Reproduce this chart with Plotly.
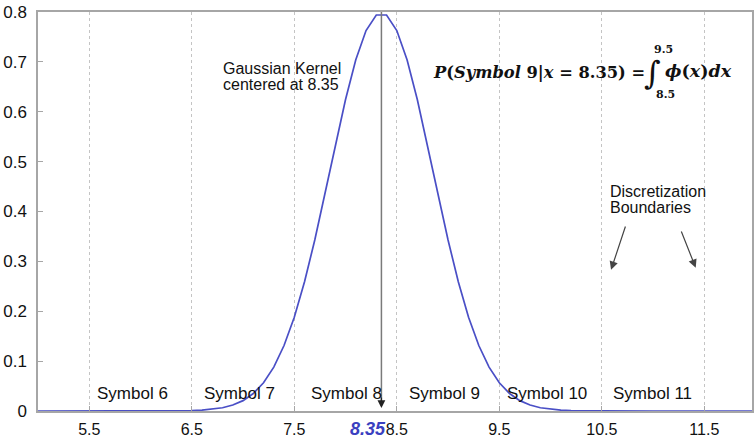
import plotly.graph_objects as go

# ---- data ----
x_vals = [5.0, 6.0, 6.2, 6.3, 6.4, 6.5, 6.6, 6.7, 6.8, 6.9, 7.0, 7.1, 7.2, 7.3, 7.4,
          7.5, 7.6, 7.7, 7.8, 7.9, 8.0, 8.1, 8.2, 8.3, 8.4, 8.5, 8.6, 8.7, 8.8, 8.9,
          9.0, 9.1, 9.2, 9.3, 9.4, 9.5, 9.6, 9.7, 9.8, 9.9, 10.0, 10.1, 10.2, 10.3,
          10.4, 10.5, 11.0, 12.0]
y_vals = [0.0, 0.0, 0.0001, 0.0002, 0.0004, 0.0008, 0.0017, 0.0034, 0.0065, 0.0119,
          0.0208, 0.0351, 0.0567, 0.0880, 0.1313, 0.1881, 0.2591, 0.3428, 0.4357,
          0.5322, 0.6245, 0.7041, 0.7628, 0.7940, 0.7940, 0.7628, 0.7041, 0.6245,
          0.5322, 0.4357, 0.3428, 0.2591, 0.1881, 0.1313, 0.0880, 0.0567, 0.0351,
          0.0208, 0.0119, 0.0065, 0.0034, 0.0017, 0.0008, 0.0004, 0.0002, 0.0001,
          0.0, 0.0]

x_ticks = [5.5, 6.5, 7.5, 8.5, 9.5, 10.5, 11.5]
x_tick_labels = ["5.5", "6.5", "7.5", "8.5", "9.5", "10.5", "11.5"]
y_ticks = [0, 0.1, 0.2, 0.3, 0.4, 0.5, 0.6, 0.7, 0.8]
y_tick_labels = ["0", "0.1", "0.2", "0.3", "0.4", "0.5", "0.6", "0.7", "0.8"]

symbol_names = ["Symbol 6", "Symbol 7", "Symbol 8", "Symbol 9", "Symbol 10", "Symbol 11"]
symbol_x = [5.92, 6.97, 8.01, 8.97, 9.97, 10.99]
kernel_center = 8.35

SANS = "Liberation Sans, Arial, sans-serif"
SERIF = "DejaVu Serif, serif"
AX = "#a6a6a6"
TXT = "#111"

fig = go.Figure()
fig.add_trace(go.Scatter(x=x_vals, y=y_vals, mode="lines",
                         line=dict(color="#4a4fc6", width=1.7), showlegend=False,
                         hoverinfo="skip"))

# vertical marker line at kernel centre
fig.add_shape(type="line", x0=kernel_center, x1=kernel_center, y0=0.8, y1=0.02,
              xref="x", yref="y", line=dict(color="#7a7a7a", width=1.5))

ann = []
ann.append(dict(x=kernel_center, y=0.006, ax=kernel_center, ay=0.03, xref="x", yref="y",
                axref="x", ayref="y", showarrow=True, arrowhead=2, arrowsize=1.2,
                arrowwidth=1.3, arrowcolor="#222", text=""))

for name, sx in zip(symbol_names, symbol_x):
    ann.append(dict(x=sx, y=0.036, xref="x", yref="y", text=name, showarrow=False,
                    font=dict(family=SANS, size=17, color=TXT), xanchor="center",
                    yanchor="middle"))

ann.append(dict(x=6.789, y=0.686, xref="x", yref="y", text="Gaussian Kernel",
                showarrow=False, xanchor="left", yanchor="middle",
                font=dict(family=SANS, size=16, color=TXT)))
ann.append(dict(x=6.789, y=0.655, xref="x", yref="y", text="centered at 8.35",
                showarrow=False, xanchor="left", yanchor="middle",
                font=dict(family=SANS, size=16, color=TXT)))

ann.append(dict(x=10.56, y=0.441, xref="x", yref="y", text="Discretization",
                showarrow=False, xanchor="left", yanchor="middle",
                font=dict(family=SANS, size=16, color=TXT)))
ann.append(dict(x=10.56, y=0.408, xref="x", yref="y", text="Boundaries",
                showarrow=False, xanchor="left", yanchor="middle",
                font=dict(family=SANS, size=16, color=TXT)))

ann.append(dict(x=10.59, y=0.283, ax=10.735, ay=0.373, xref="x", yref="y",
                axref="x", ayref="y", showarrow=True, arrowhead=2, arrowsize=1.4,
                arrowwidth=1.2, arrowcolor="#444", text=""))
ann.append(dict(x=11.416, y=0.287, ax=11.27, ay=0.363, xref="x", yref="y",
                axref="x", ayref="y", showarrow=True, arrowhead=2, arrowsize=1.4,
                arrowwidth=1.2, arrowcolor="#444", text=""))

# equation
ann.append(dict(x=8.83, y=0.678, xref="x", yref="y",
                text="<b><i>P</i>(<i>Symbol</i> 9|<i>x</i> = 8.35) =</b>",
                showarrow=False, xanchor="left", yanchor="middle",
                font=dict(family=SERIF, size=16.3, color=TXT)))
ann.append(dict(x=10.99, y=0.677, xref="x", yref="y", text="∫",
                showarrow=False, xanchor="center", yanchor="middle",
                font=dict(family=SERIF, size=32, color=TXT)))
ann.append(dict(x=11.105, y=0.724, xref="x", yref="y", text="<b>9.5</b>",
                showarrow=False, xanchor="center", yanchor="middle",
                font=dict(family=SERIF, size=11, color=TXT)))
ann.append(dict(x=11.125, y=0.634, xref="x", yref="y", text="<b>8.5</b>",
                showarrow=False, xanchor="center", yanchor="middle",
                font=dict(family=SERIF, size=11, color=TXT)))
ann.append(dict(x=11.1, y=0.682, xref="x", yref="y",
                text="<b><i>ϕ</i>(<i>x</i>)<i>dx</i></b>",
                showarrow=False, xanchor="left", yanchor="middle",
                font=dict(family=SERIF, size=17.5, color=TXT)))

# blue 8.35 label under the axis
ann.append(dict(x=8.41, y=0, xref="x", yref="paper", text="<b><i>8.35</i></b>",
                showarrow=False, xanchor="right", yanchor="top", yshift=-6,
                font=dict(family=SANS, size=18, color="#3a3fc0")))

fig.update_layout(
    width=754, height=442,
    margin=dict(l=38, r=0, t=12, b=31),
    paper_bgcolor="white", plot_bgcolor="white",
    showlegend=False,
    annotations=ann,
    xaxis=dict(range=[5, 11.965], tickvals=x_ticks, ticktext=x_tick_labels,
               showgrid=True, gridcolor="#c4c4c4", griddash="dot", gridwidth=1,
               zeroline=False, showline=True, linecolor=AX, linewidth=1.5,
               mirror=True, ticks="inside", ticklen=5, tickcolor=AX,
               ticklabelstandoff=3,
               tickfont=dict(family=SANS, size=16, color=TXT)),
    yaxis=dict(range=[0, 0.8], tickvals=y_ticks, ticktext=y_tick_labels,
               showgrid=False, zeroline=False, showline=True, linecolor=AX,
               linewidth=1.5, mirror=True, ticks="inside", ticklen=5, tickcolor=AX,
               ticklabelstandoff=6,
               tickfont=dict(family=SANS, size=17, color=TXT)),
)

fig.write_html("out.html")
